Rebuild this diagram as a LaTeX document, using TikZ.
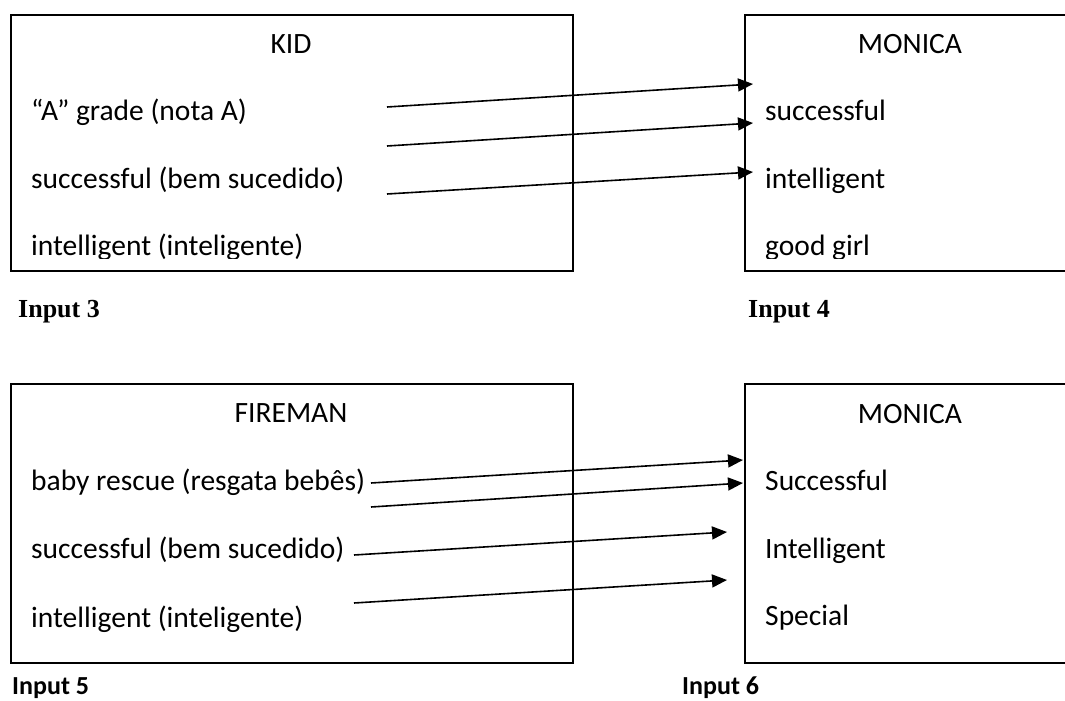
\documentclass[tikz,border=0pt]{standalone}
\usepackage{fontspec}
\setmainfont{Carlito}
\newfontfamily\captionserif{Liberation Serif}
\usetikzlibrary{arrows.meta}
\tikzset{
  panel/.style={draw, line width=1.8pt, anchor=north west},
  title/.style={anchor=base, inner sep=0pt, font=\fontsize{29.5}{34}\selectfont},
  item/.style={anchor=base west, inner sep=0pt, font=\fontsize{29.5}{34}\selectfont},
  caption/.style={anchor=base west, inner sep=0pt, font=\fontsize{26}{30}\selectfont\bfseries},
  link/.style={-{Triangle[length=15pt, width=13pt]}, line width=1.6pt}
}

\begin{document}
\begin{tikzpicture}[x=1pt, y=-1pt]
  \useasboundingbox (0,0) rectangle (1065,701);
  \clip (0,0) rectangle (1065,701);

  % the four boxes
  \node[panel, minimum width=562pt, minimum height=256pt] (kid) at (10,14) {};
  \node[panel, minimum width=340pt, minimum height=256pt] (monicaA) at (744,14) {};
  \node[panel, minimum width=562pt, minimum height=279pt] (fireman) at (10,383) {};
  \node[panel, minimum width=340pt, minimum height=279pt] (monicaB) at (744,383) {};

  % texts of the upper boxes (cut at the inner bottom)
  \begin{scope}
    \clip (10,14) rectangle (572,258) (744,14) rectangle (1065,258);
    \node[title] (kidT) at (291,53) {KID};
    \node[item] (kid1) at (31,120) {“A” grade (nota A)};
    \node[item] (kid2) at (31,188) {successful (bem sucedido)};
    \node[item] (kid3) at (31,255) {intelligent (inteligente)};
    \node[title] (monAT) at (910,53) {MONICA};
    \node[item] (monA1) at (765,120) {successful};
    \node[item] (monA2) at (765,188) {intelligent};
    \node[item] (monA3) at (765,255) {good girl};
  \end{scope}

  % texts of the lower boxes
  \node[title] (firT) at (291,422) {FIREMAN};
  \node[item] (fir1) at (31,490) {baby rescue (resgata bebês)};
  \node[item] (fir2) at (31,558) {successful (bem sucedido)};
  \node[item] (fir3) at (31,627) {intelligent (inteligente)};
  \node[title] (monBT) at (910,423) {MONICA};
  \node[item] (monB1) at (765,490) {Successful};
  \node[item] (monB2) at (765,558) {Intelligent};
  \node[item] (monB3) at (765,625) {Special};

  % captions
  \node[caption, font=\captionserif\fontsize{26}{30}\selectfont\bfseries] (in3) at (18,317) {Input 3};
  \node[caption, font=\captionserif\fontsize{26}{30}\selectfont\bfseries] (in4) at (748,317) {Input 4};
  \node[caption] (in5) at (12,694) {Input 5};
  \node[caption] (in6) at (682,694) {Input 6};

  % arrow ends
  \coordinate (k1) at (387,107);  \coordinate (m1) at (753,84);
  \coordinate (k2) at (387,146);  \coordinate (m2) at (753,123);
  \coordinate (k3) at (387,194);  \coordinate (m3) at (753,172);
  \coordinate (f1) at (371,483);  \coordinate (n1) at (743,460);
  \coordinate (f2) at (371,507);  \coordinate (n2) at (743,483);
  \coordinate (f3) at (354,555);  \coordinate (n3) at (727,532);
  \coordinate (f4) at (354,603);  \coordinate (n4) at (727,580);

  \draw[link] (k1) -- (m1);
  \draw[link] (k2) -- (m2);
  \draw[link] (k3) -- (m3);
  \draw[link] (f1) -- (n1);
  \draw[link] (f2) -- (n2);
  \draw[link] (f3) -- (n3);
  \draw[link] (f4) -- (n4);
\end{tikzpicture}
\end{document}
